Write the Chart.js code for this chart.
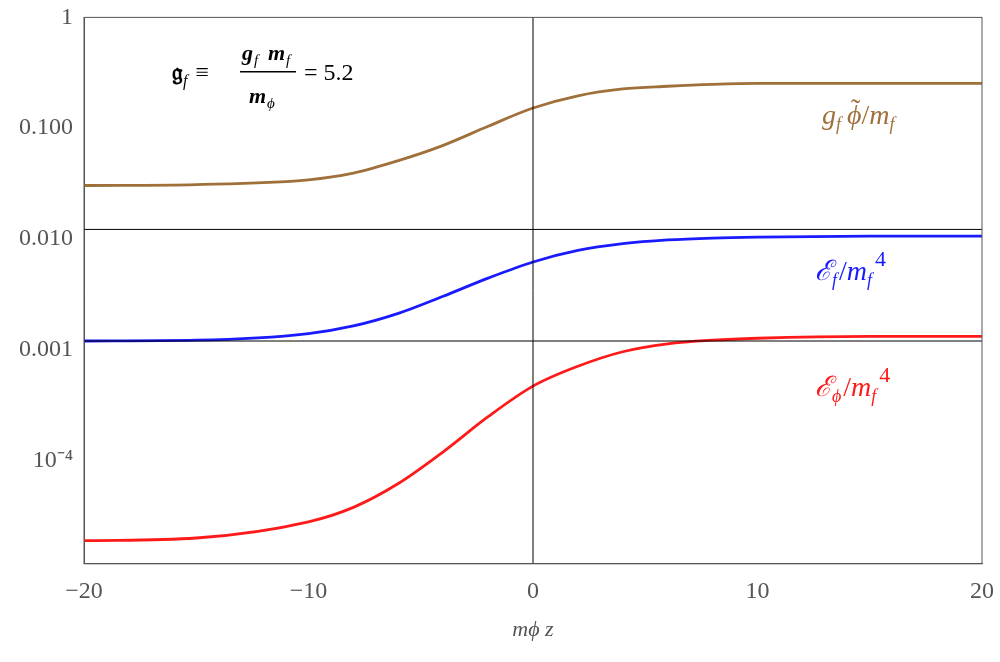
<!DOCTYPE html><html><head><meta charset="utf-8">
<script src="https://cdn.jsdelivr.net/npm/chart.js@4"></script>
<style>body{margin:0;background:#fff}#w{width:1000px;height:662px}</style></head><body><div id="w"><canvas id="c"></canvas></div>
<script>
const xs=[-20,-15,-10,-8,-6,-4,-2,0,2,4,6,8,10,15,20];
const brown=[0.0304,0.031,0.0342,0.0393,0.0509,0.070,0.104,0.152,0.196,0.226,0.239,0.249,0.254,0.254,0.254];
const blue=[0.00120,0.00122,0.00140,0.00164,0.00213,0.00304,0.00443,0.0062,0.00788,0.00906,0.0098,0.0102,0.0104,0.0106,0.0106];
const red=[1.89e-5,2.0e-5,2.8e-5,3.78e-5,6.2e-5,1.2e-4,2.49e-4,4.7e-4,7.1e-4,9.6e-4,1.13e-3,1.22e-3,1.27e-3,1.32e-3,1.32e-3];
const hLines=[0.0122,0.0012];
const yTicks=[1,0.1,0.01,0.001,1e-4];
const yTickLabels={1:'1',0.1:'0.100',0.01:'0.010',0.001:'0.001',0.0001:'10⁻⁴'};
const xTicks=[-20,-10,0,10,20];
const pts=a=>xs.map((x,i)=>({x,y:a[i]}));
const ds=[];
hLines.forEach(v=>ds.push({data:[{x:-20,y:v},{x:20,y:v}],borderColor:'#000',borderWidth:1,pointRadius:0}));
ds.push({data:[{x:0,y:1.17e-5},{x:0,y:1}],borderColor:'#000',borderWidth:1,pointRadius:0});
ds.push({data:pts(brown),borderColor:'#a0703a',borderWidth:2.8,pointRadius:0,cubicInterpolationMode:'monotone'});
ds.push({data:pts(blue),borderColor:'#1a1aff',borderWidth:2.8,pointRadius:0,cubicInterpolationMode:'monotone'});
ds.push({data:pts(red),borderColor:'#ff1a1a',borderWidth:2.8,pointRadius:0,cubicInterpolationMode:'monotone'});
const F='"Liberation Serif"';
const labels={id:'lab',afterDraw(c){const x=c.ctx;x.save();
 const a=c.chartArea;x.strokeStyle='#555';x.lineWidth=1;x.strokeRect(a.left,a.top,a.right-a.left,a.bottom-a.top);
 x.textBaseline='alphabetic';
 const t=(s,px,py,f,col)=>{x.font=f;x.fillStyle=col;x.fillText(s,px,py);return x.measureText(s).width;};
 let p=172; p+=t('𝔤',p,80,'bold 24px "DejaVu Serif"','#000'); p+=t('f',p,86,'italic 16px '+F,'#000'); t('≡',p+8,80,'24px '+F,'#000');
 t('g',242,60,'italic bold 22px '+F,'#000');t('f',254,65,'italic 15px '+F,'#000');t('m',268,60,'italic bold 22px '+F,'#000');t('f',286,65,'italic 15px '+F,'#000');
 x.fillStyle='#000';x.fillRect(240,71,56,1.5);
 t('m',249,103,'italic bold 22px '+F,'#000');t('ϕ',267,108,'italic 15px '+F,'#000');
 t('= 5.2',304,80,'24px '+F,'#000');
 const B='#a0703a';p=822;p+=t('g',p,124,'italic 28px '+F,B);p+=t('f',p,130,'italic 18px '+F,B);p+=6;t('˜',p+4,118,'28px '+F,B);p+=t('ϕ',p,124,'italic 28px '+F,B);p+=t('/',p,124,'28px '+F,B);p+=t('m',p,124,'italic 28px '+F,B);t('f',p,130,'italic 18px '+F,B);
 const U='#1a1aff';p=815;p+=t('ℰ',p,280,'italic 28px '+F,U);p+=t('f',p,286,'italic 18px '+F,U);p+=t('/',p+2,280,'28px '+F,U)+2;p+=t('m',p,280,'italic 28px '+F,U);t('f',p,286,'italic 18px '+F,U);t('4',p+8,266,'22px '+F,U);
 const R='#ff1a1a';p=815;p+=t('ℰ',p,396,'italic 28px '+F,R);p+=t('ϕ',p,402,'italic 18px '+F,R);p+=t('/',p+2,396,'28px '+F,R)+2;p+=t('m',p,396,'italic 28px '+F,R);t('f',p,402,'italic 18px '+F,R);t('4',p+8,382,'22px '+F,R);
 x.restore();}};
new Chart(document.getElementById('c'),{type:'line',data:{datasets:ds},plugins:[labels],
options:{responsive:true,maintainAspectRatio:false,animation:false,layout:{padding:{top:3,right:18,left:0,bottom:15}},
plugins:{legend:{display:false},tooltip:{enabled:false}},
scales:{x:{type:'linear',min:-20,max:20,afterBuildTicks:a=>{a.ticks=xTicks.map(v=>({value:v}))},
 ticks:{color:'#555',font:{family:F,size:24},callback:v=>v<0?'−'+(-v):''+v,maxRotation:0,padding:6},
 grid:{display:false},border:{color:'#555'},
 title:{display:true,text:'mϕ z',color:'#555',font:{family:F,size:22,style:'italic'}}},
y:{type:'logarithmic',min:1.17e-5,max:1,afterBuildTicks:a=>{a.ticks=yTicks.map(v=>({value:v}))},
 afterFit:a=>{a.width=84},
 ticks:{color:'#555',font:{family:F,size:24},callback:v=>yTickLabels[v]??''},
 grid:{display:false},border:{color:'#555'}}}}});
</script></body></html>
